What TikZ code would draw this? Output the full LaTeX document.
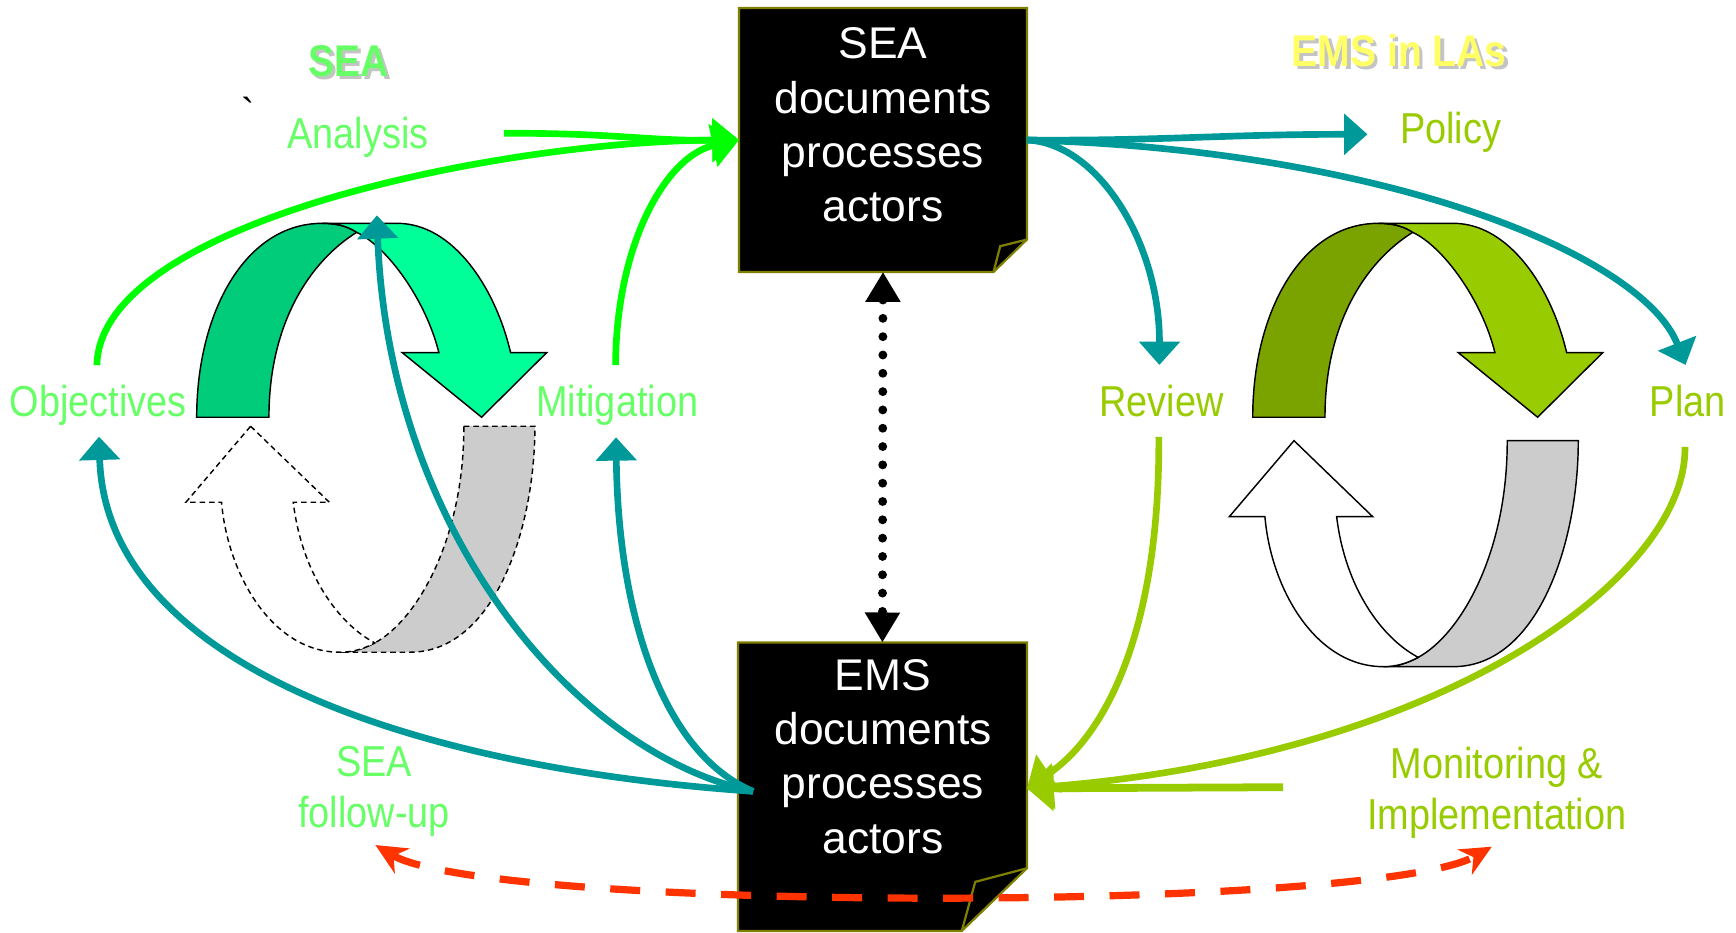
\documentclass[tikz,border=0pt]{standalone}
\usepackage{fontspec}
\setmainfont{Liberation Sans}
\newfontfamily\labf[FakeStretch=0.875]{Liberation Sans}
\newfontfamily\ttlf[FakeStretch=0.88]{Liberation Sans}
\newfontfamily\gravef[Ligatures=TeXOff]{Liberation Sans}
\usetikzlibrary{arrows.meta,calc}
\definecolor{lg}{HTML}{66FF66}
\definecolor{yg}{HTML}{99CC00}
\definecolor{ttl}{HTML}{009999}
\definecolor{brg}{HTML}{00FF00}
\definecolor{ylw}{HTML}{FFFF66}
\definecolor{redo}{HTML}{FF3300}
\definecolor{olivebd}{HTML}{808000}
\definecolor{gdark}{HTML}{00CC7A}
\definecolor{glight}{HTML}{00FF99}
\definecolor{ydark}{HTML}{7AA300}
\definecolor{ylight}{HTML}{99CC00}
\definecolor{grayband}{HTML}{CCCCCC}
\definecolor{shadowc}{HTML}{C4C4C4}
\tikzset{
  lbl/.style={inner sep=0pt, font=\labf\fontsize{39}{46}\selectfont, anchor=base},
  lbltwo/.style={inner sep=0pt, font=\labf\fontsize{39}{46}\selectfont, anchor=north, align=center},
  ttlnode/.style={inner sep=0pt, font=\ttlf\bfseries\fontsize{40}{48}\selectfont, anchor=base},
  boxnode/.style 2 args={minimum width=#1pt, minimum height=#2pt, inner sep=0pt},
  boxtext/.style={inner sep=0pt, anchor=north, align=center, text=white, font=\fontsize{40}{48.8}\selectfont},
  boxfill/.style={fill=black, draw=olivebd, line width=2pt, line join=miter},
  foldline/.style={draw=olivebd, line width=2pt},
  tealarr/.style={draw=ttl, line width=6pt, -{Triangle[length=21pt,width=36pt]}},
  greenarr/.style={draw=brg, line width=6pt, -{Triangle[length=24pt,width=38pt]}},
  ygarr/.style={draw=yg, line width=6pt, -{Triangle[length=24pt,width=40pt]}},
  dotarr/.style={draw=black, line width=8pt, line cap=round, dash pattern=on 0pt off 16.5pt,
     {Triangle[length=27pt,width=30pt]}-{Triangle[length=27pt,width=30pt]}},
  redarr/.style={draw=redo, line width=6.5pt, dash pattern=on 27pt off 23pt,
     {Stealth[length=28pt,width=26pt,inset=9pt]}-{Stealth[length=28pt,width=26pt,inset=9pt]}},
  cyc/.style={draw=black, line width=1.3pt, line join=miter},
  cycdash/.style={cyc, dash pattern=on 5pt off 3.5pt},
}
\newcommand{\topArcPaths}[2]{%
  \filldraw[cyc, fill=#1] (1128.6,375.9) .. controls (1128.6,282) and (1172,201.2) .. (1241.7,201.2)
     .. controls (1255,201.2) and (1265,204) .. (1272.7,209.3)
     .. controls (1230,236) and (1193.7,292) .. (1193.7,375.9) -- cycle;
  \filldraw[cyc, fill=#2] (1241.7,201.2) -- (1309.3,201.2) .. controls (1360,201.2) and (1398,260) .. (1411.4,317.7)
     -- (1443.9,317.7) -- (1385.3,375.9) -- (1313.8,317.7) -- (1346.8,317.7)
     .. controls (1335,270) and (1300,222) .. (1272.7,209.3)
     .. controls (1265,204) and (1255,201.2) .. (1241.7,201.2) -- cycle;
}
\newcommand{\bottomArcPaths}[1]{%
  \filldraw[#1, fill=grayband] (1357.9,397) -- (1421.9,397) .. controls (1422,490) and (1385,600.6) .. (1309.3,600.6)
     -- (1246.2,600.6) .. controls (1258,600.6) and (1268,597.5) .. (1277.7,592.2)
     .. controls (1315,572) and (1358,500) .. (1357.9,397) -- cycle;
  \filldraw[#1, fill=white] (1165.8,397) -- (1236.7,465.5) -- (1204.2,465.5)
     .. controls (1212,530) and (1245,575) .. (1277.7,592.2)
     .. controls (1268,597.5) and (1258,600.6) .. (1246.2,600.6)
     .. controls (1185,600.6) and (1145,530) .. (1139.6,465.5) -- (1107.5,465.5) -- cycle;
}
\begin{document}
\begin{tikzpicture}[x=1pt, y=-1pt]
\useasboundingbox (0,0) rectangle (1564,840.5);
\fill[white] (0,0) rectangle (1564,840.5);

% cycles
\topArcPaths{ydark}{ylight}
\bottomArcPaths{cyc}
\begin{scope}[shift={(-951.4,0)}]\topArcPaths{gdark}{glight}\end{scope}
\begin{scope}[shift={(-940,-13)}]\bottomArcPaths{cycdash}\end{scope}

% boxes
\node[boxnode={259}{237.3}] (sea) at (795.5,126.15) {};
\node[boxnode={260}{259.5}] (ems) at (795,708.75) {};
\draw[boxfill] (sea.north west) -- (sea.north east) -- ($(sea.south east)+(0,-29.2)$)
   -- ($(sea.south east)+(-30.1,0)$) -- (sea.south west) -- cycle;
\draw[foldline] ($(sea.south east)+(0,-29.2)$) -- ($(sea.south east)+(-24.1,-23.2)$) -- ($(sea.south east)+(-30.1,0)$);
\draw[boxfill] (ems.north west) -- (ems.north east) -- ($(ems.south east)+(0,-56.5)$)
   -- ($(ems.south east)+(-58.7,0)$) -- (ems.south west) -- cycle;
\draw[foldline] ($(ems.south east)+(0,-56.5)$) -- ($(ems.south east)+(-46.6,-44.2)$) -- ($(ems.south east)+(-58.7,0)$);
\node[boxtext] (seat) at (795.5,25) {SEA\\documents\\processes\\actors};
\node[boxtext] (emst) at (795.5,594) {EMS\\documents\\processes\\actors};

% titles
\node[ttlnode, text=shadowc] (seash) at (317,72) {SEA};
\node[ttlnode, text=lg] (seattl) at (314,69) {SEA};
\node[ttlnode, text=shadowc] (emssh) at (1263.5,63) {EMS in LAs};
\node[ttlnode, text=ylw] (emsttl) at (1260.5,60) {EMS in LAs};
\node[inner sep=0pt, anchor=base, font=\gravef\fontsize{36}{40}\selectfont] (grv) at (224,114) {\char96};

% labels
\node[lbl, text=lg] (obj) at (88.5,375.5) {Objectives};
\node[lbl, text=lg] (mit) at (556,375.5) {Mitigation};
\node[lbl, text=lg] (ana) at (322.5,133.6) {Analysis};
\node[lbl, text=yg] (rev) at (1046.5,375.5) {Review};
\node[lbl, text=yg] (plan) at (1520.5,375.5) {Plan};
\node[lbl, text=yg] (pol) at (1307,129.7) {Policy};
\node[lbltwo, text=lg] (fu) at (337,672.5) {SEA\\follow-up};
\node[lbltwo, text=yg] (mon) at (1348.5,672.5) {Monitoring \&\\Implementation};

% connector ends
\coordinate (anaR) at ($(ana.base)+(131.5,-13.6)$);
\coordinate (objN) at ($(obj.base)+(-1.2,-46.5)$);
\coordinate (mitN) at ($(mit.base)+(-1.4,-46.5)$);
\coordinate (objS) at ($(obj.base)+(0.7,17.9)$);
\coordinate (mitS) at ($(mit.base)+(-1,18.5)$);
\coordinate (seacyc) at (339.5,194);
\coordinate (emsL) at ($(ems.west)+(13.7,4.2)$);
\coordinate (polW) at ($(pol.base)+(-75,-8.7)$);
\coordinate (revN) at ($(rev.base)+(-2,-46.7)$);
\coordinate (planN) at ($(plan.base)+(-2,-46.7)$);
\coordinate (revS) at ($(rev.base)+(-2.5,18)$);
\coordinate (planS) at ($(plan.base)+(-2.5,27)$);
\coordinate (monW) at ($(mon.north)+(-192.5,36.7)$);
\coordinate (emsR) at ($(ems.east)+(0,1.5)$);
\coordinate (fuS) at ($(fu.north)+(1.2,88.8)$);
\coordinate (monS) at ($(mon.north)+(-4.5,90.3)$);

% green arrows into SEA box
\draw[greenarr] (anaR) .. controls (560,120) and (580,127) .. (sea.west);
\draw[greenarr] (objN) .. controls (90,200) and (450,127) .. (sea.west);
\draw[greenarr] (mitN) .. controls (555,220) and (600,140) .. (sea.west);

% teal arrows from EMS box
\draw[tealarr] (emsL) .. controls (350,690) and (95,590) .. (objS);
\draw[tealarr] (emsL) .. controls (520,680) and (350,480) .. (seacyc);
\draw[tealarr] (emsL) .. controls (600,680) and (557,560) .. (mitS);

% teal arrows from SEA box
\draw[tealarr] (sea.east) .. controls (1050,127) and (1100,121) .. (polW);
\draw[tealarr] (sea.east) .. controls (990,129) and (1045,220) .. (revN);
\draw[tealarr] (sea.east) .. controls (1250,135) and (1480,230) .. (planN);

% yellow-green arrows into EMS box
\draw[ygarr] (revS) .. controls (1045,560) and (1000,660) .. (emsR);
\draw[ygarr] (planS) .. controls (1520,520) and (1300,680) .. (emsR);
\draw[ygarr, line width=7pt] (monW) -- (emsR);

% dotted double arrow
\draw[dotarr] (sea.south) -- (ems.north);

% red dashed double arrow
\draw[redarr] (fuS) .. controls (440,822) and (1240,822) .. (monS);
\end{tikzpicture}
\end{document}
